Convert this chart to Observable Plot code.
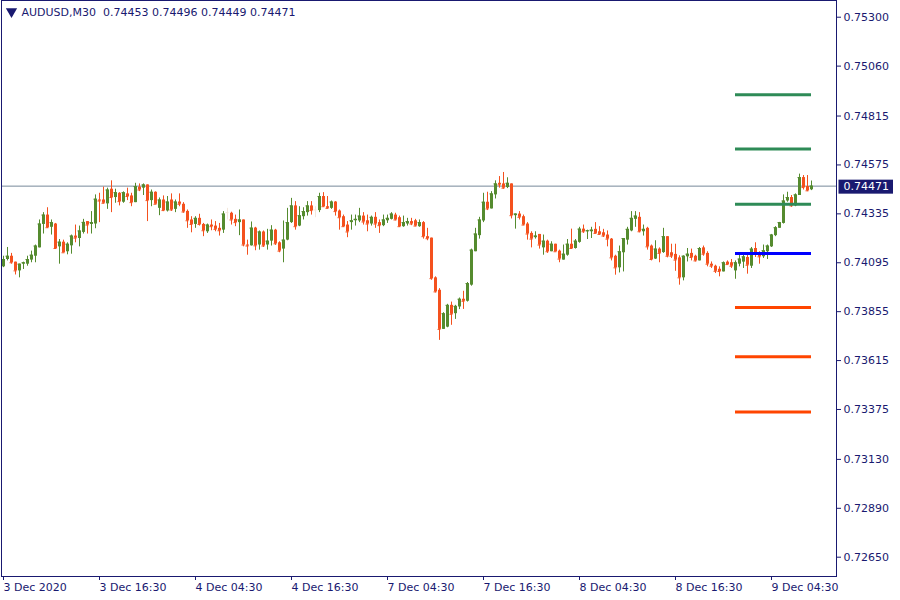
<!DOCTYPE html>
<html><head><meta charset="utf-8">
<script src="https://cdn.jsdelivr.net/npm/d3@7"></script>
<script src="https://cdn.jsdelivr.net/npm/@observablehq/plot@0.6"></script>
<style>
html,body{margin:0;padding:0;background:#fff;}
</style></head><body>
<script>
const symbol = "AUDUSD,M30";

const opens = [
0.74075,0.74111,0.74127,0.74098,0.74055,0.74088,0.74088,0.74108,0.74127,0.74168,
0.74283,0.74329,0.74269,0.74285,0.74173,0.74196,0.74149,0.74178,0.74226,0.74214,
0.74244,0.74297,0.74283,0.74285,0.74403,0.74403,0.74384,0.74456,0.74415,0.74436,
0.74392,0.74433,0.74423,0.74390,0.74466,0.74461,0.74477,0.74400,0.74441,0.74362,
0.74403,0.74349,0.74403,0.74357,0.74393,0.74382,0.74347,0.74305,0.74283,0.74313,
0.74283,0.74247,0.74280,0.74275,0.74264,0.74255,0.74341,0.74338,0.74308,0.74292,
0.74305,0.74182,0.74178,0.74265,0.74182,0.74246,0.74182,0.74201,0.74255,0.74193,
0.74162,0.74206,0.74292,0.74374,0.74275,0.74321,0.74341,0.74374,0.74354,0.74351,
0.74420,0.74370,0.74362,0.74393,0.74349,0.74321,0.74280,0.74292,0.74301,0.74300,
0.74324,0.74301,0.74285,0.74318,0.74292,0.74277,0.74301,0.74308,0.74329,0.74316,
0.74272,0.74285,0.74297,0.74301,0.74272,0.74292,0.74223,0.74216,0.74021,0.73960,
0.73768,0.73779,0.73886,0.73845,0.73878,0.73916,0.73906,0.73985,0.74149,0.74228,
0.74300,0.74392,0.74359,0.74428,0.74485,0.74482,0.74464,0.74482,0.74326,0.74334,
0.74321,0.74285,0.74239,0.74218,0.74234,0.74168,0.74201,0.74149,0.74186,0.74152,
0.74108,0.74132,0.74186,0.74165,0.74195,0.74260,0.74247,0.74247,0.74259,0.74247,
0.74242,0.74231,0.74211,0.74127,0.74070,0.74144,0.74206,0.74251,0.74308,0.74318,
0.74247,0.74264,0.74177,0.74113,0.74162,0.74145,0.74223,0.74144,0.74136,0.74119,
0.74021,0.74124,0.74141,0.74127,0.74104,0.74168,0.74141,0.74088,0.74078,0.74063,
0.74050,0.74098,0.74095,0.74055,0.74088,0.74098,0.74121,0.74078,0.74165,0.74137,
0.74124,0.74149,0.74173,0.74228,0.74264,0.74288,0.74398,0.74415,0.74374,0.74425,
0.74513,0.74469,0.74453];

const highs = [
0.74127,0.74170,0.74141,0.74098,0.74088,0.74098,0.74127,0.74152,0.74182,0.74305,
0.74341,0.74365,0.74305,0.74288,0.74209,0.74206,0.74193,0.74231,0.74280,0.74275,
0.74308,0.74297,0.74346,0.74428,0.74436,0.74466,0.74461,0.74497,0.74456,0.74439,
0.74443,0.74461,0.74436,0.74485,0.74482,0.74482,0.74477,0.74452,0.74443,0.74413,
0.74423,0.74420,0.74433,0.74403,0.74433,0.74390,0.74354,0.74321,0.74321,0.74333,
0.74288,0.74285,0.74305,0.74297,0.74288,0.74346,0.74362,0.74343,0.74329,0.74354,
0.74305,0.74206,0.74295,0.74269,0.74251,0.74251,0.74259,0.74277,0.74259,0.74198,
0.74300,0.74362,0.74411,0.74395,0.74370,0.74365,0.74395,0.74395,0.74370,0.74436,
0.74439,0.74420,0.74398,0.74395,0.74354,0.74329,0.74297,0.74329,0.74329,0.74362,
0.74341,0.74329,0.74324,0.74341,0.74305,0.74329,0.74329,0.74341,0.74338,0.74324,
0.74324,0.74313,0.74313,0.74308,0.74305,0.74297,0.74264,0.74216,0.74026,0.73968,
0.73850,0.73891,0.73902,0.73886,0.73922,0.73955,0.73998,0.74162,0.74264,0.74318,
0.74436,0.74441,0.74444,0.74497,0.74518,0.74538,0.74512,0.74482,0.74334,0.74346,
0.74329,0.74292,0.74247,0.74247,0.74234,0.74231,0.74206,0.74198,0.74186,0.74157,
0.74182,0.74209,0.74260,0.74209,0.74269,0.74280,0.74255,0.74269,0.74292,0.74272,
0.74259,0.74251,0.74214,0.74132,0.74177,0.74214,0.74269,0.74346,0.74346,0.74341,
0.74280,0.74269,0.74182,0.74203,0.74168,0.74264,0.74223,0.74186,0.74186,0.74129,
0.74129,0.74165,0.74162,0.74132,0.74170,0.74177,0.74149,0.74099,0.74083,0.74075,
0.74099,0.74104,0.74111,0.74104,0.74141,0.74141,0.74141,0.74170,0.74193,0.74149,
0.74182,0.74182,0.74234,0.74272,0.74293,0.74428,0.74441,0.74425,0.74433,0.74530,
0.74523,0.74523,0.74496];

const lows = [
0.74071,0.74104,0.74088,0.74035,0.74021,0.74062,0.74078,0.74095,0.74095,0.74168,
0.74236,0.74264,0.74231,0.74162,0.74088,0.74144,0.74134,0.74137,0.74193,0.74173,
0.74236,0.74236,0.74236,0.74262,0.74292,0.74384,0.74357,0.74341,0.74387,0.74374,
0.74387,0.74400,0.74370,0.74390,0.74444,0.74425,0.74297,0.74370,0.74382,0.74326,
0.74346,0.74344,0.74347,0.74341,0.74370,0.74338,0.74264,0.74242,0.74264,0.74275,
0.74223,0.74239,0.74252,0.74247,0.74226,0.74239,0.74305,0.74280,0.74272,0.74228,
0.74173,0.74132,0.74177,0.74154,0.74157,0.74170,0.74157,0.74177,0.74180,0.74144,
0.74095,0.74203,0.74288,0.74255,0.74272,0.74305,0.74324,0.74329,0.74316,0.74341,
0.74367,0.74359,0.74357,0.74324,0.74255,0.74269,0.74218,0.74255,0.74275,0.74292,
0.74280,0.74247,0.74275,0.74264,0.74239,0.74272,0.74288,0.74305,0.74301,0.74269,
0.74269,0.74275,0.74277,0.74272,0.74269,0.74211,0.74203,0.74009,0.73947,0.73714,
0.73768,0.73776,0.73788,0.73817,0.73865,0.73866,0.73902,0.73980,0.74149,0.74211,
0.74292,0.74351,0.74359,0.74408,0.74461,0.74456,0.74459,0.74310,0.74260,0.74305,
0.74277,0.74206,0.74168,0.74211,0.74162,0.74132,0.74141,0.74149,0.74149,0.74095,
0.74108,0.74127,0.74165,0.74162,0.74191,0.74239,0.74209,0.74214,0.74239,0.74231,
0.74219,0.74173,0.74104,0.74034,0.74045,0.74050,0.74182,0.74247,0.74269,0.74242,
0.74226,0.74157,0.74104,0.74111,0.74095,0.74141,0.74119,0.74116,0.74053,0.73985,
0.74006,0.74099,0.74104,0.74099,0.74104,0.74127,0.74075,0.74067,0.74042,0.74026,
0.74050,0.74083,0.74067,0.74014,0.74075,0.74067,0.74039,0.74067,0.74121,0.74088,
0.74116,0.74111,0.74170,0.74223,0.74264,0.74285,0.74392,0.74367,0.74370,0.74425,
0.74452,0.74444,0.74449];

const closes = [
0.74111,0.74127,0.74095,0.74055,0.74088,0.74095,0.74111,0.74132,0.74177,0.74285,
0.74329,0.74267,0.74292,0.74165,0.74196,0.74144,0.74186,0.74226,0.74216,0.74251,
0.74293,0.74280,0.74292,0.74407,0.74398,0.74387,0.74452,0.74415,0.74439,0.74395,
0.74439,0.74420,0.74390,0.74469,0.74452,0.74477,0.74400,0.74441,0.74382,0.74403,
0.74351,0.74393,0.74354,0.74393,0.74382,0.74344,0.74301,0.74283,0.74313,0.74283,
0.74252,0.74280,0.74272,0.74259,0.74252,0.74334,0.74341,0.74305,0.74292,0.74305,
0.74182,0.74177,0.74265,0.74178,0.74246,0.74177,0.74201,0.74255,0.74188,0.74152,
0.74206,0.74292,0.74374,0.74272,0.74326,0.74346,0.74374,0.74351,0.74354,0.74420,
0.74370,0.74362,0.74393,0.74346,0.74316,0.74272,0.74246,0.74301,0.74308,0.74324,
0.74295,0.74285,0.74318,0.74285,0.74277,0.74305,0.74313,0.74334,0.74305,0.74272,
0.74292,0.74297,0.74285,0.74275,0.74292,0.74223,0.74213,0.74017,0.73952,0.73768,
0.73845,0.73886,0.73842,0.73881,0.73916,0.73906,0.73993,0.74157,0.74236,0.74305,
0.74392,0.74359,0.74433,0.74482,0.74477,0.74461,0.74485,0.74326,0.74334,0.74318,
0.74280,0.74236,0.74211,0.74226,0.74182,0.74201,0.74149,0.74186,0.74149,0.74113,
0.74137,0.74186,0.74165,0.74201,0.74260,0.74247,0.74252,0.74255,0.74239,0.74234,
0.74226,0.74211,0.74119,0.74070,0.74149,0.74214,0.74259,0.74313,0.74324,0.74247,
0.74259,0.74173,0.74111,0.74162,0.74141,0.74223,0.74127,0.74127,0.74108,0.74021,
0.74127,0.74137,0.74121,0.74104,0.74165,0.74137,0.74088,0.74078,0.74053,0.74052,
0.74095,0.74086,0.74078,0.74095,0.74113,0.74124,0.74083,0.74162,0.74137,0.74124,
0.74154,0.74177,0.74231,0.74267,0.74292,0.74398,0.74415,0.74374,0.74428,0.74513,
0.74464,0.74448,0.74471];

// x axis: bar index of each labelled bar, and its label
const xTickBars = [0, 24, 48, 72, 96, 120, 144, 168, 192];
const xTickLabels = ["3 Dec 2020", "3 Dec 16:30", "4 Dec 04:30", "4 Dec 16:30",
  "7 Dec 04:30", "7 Dec 16:30", "8 Dec 04:30", "8 Dec 16:30", "9 Dec 04:30"];
// y axis price labels
const yTicks = [0.75300, 0.75060, 0.74815, 0.74575, 0.74335, 0.74095,
  0.73855, 0.73615, 0.73375, 0.73130, 0.72890, 0.72650];

// pivot levels (R3..S3), drawn over bars levelFromBar..levelToBar
const levelPrices = [0.74919, 0.74653, 0.74382, 0.74141, 0.73875, 0.73634, 0.73363];
const levelKinds = ["R", "R", "R", "P", "S", "S", "S"];
const levelFromBar = 183, levelToBar = 202;

const bid = 0.74471;

// ---- build ----
const NAVY = "#191970";
const UP = "#558B2F", DOWN = "#F4511E", DOJI = "#F3E6DA";
const LEVEL_COLORS = {R: "#2E8B57", P: "#0000FF", S: "#FF4500"};

const candles = closes.map((c, i) => ({i, o: opens[i], h: highs[i], l: lows[i], c}));
const col = d => d.c > d.o ? UP : d.c < d.o ? DOWN : DOJI;
const levels = levelPrices.map((p, k) => ({p, kind: levelKinds[k]}));
const last = candles[candles.length - 1];
const fmt = d3.format(".5f");
const header = symbol + "\u00a0\u00a0" + [last.o, last.h, last.l, last.c].map(fmt).join(" ");

const chart = Plot.plot({
  width: 900, height: 600,
  marginLeft: 1, marginRight: 64, marginTop: 0, marginBottom: 24,
  style: {fontFamily: "DejaVu Sans", fontSize: "11px", color: NAVY, background: "white", overflow: "visible"},
  x: {domain: [-0.5, 208.25], label: null},
  y: {domain: [0.725553, 0.753820], label: null},
  marks: [
    Plot.ruleY([bid], {stroke: "#778899", strokeWidth: 1}),
    Plot.ruleX(candles, {x: "i", y1: "l", y2: "h", stroke: col, strokeWidth: 1}),
    Plot.ruleX(candles, {x: "i", y1: "o", y2: "c", stroke: col, strokeWidth: 3}),
    Plot.ruleY(candles, {y: "c", x1: d => d.i - 0.375, x2: d => d.i + 0.375, stroke: col, strokeWidth: 1}),
    Plot.ruleY(levels, {y: "p", x1: () => levelFromBar, x2: () => levelToBar,
      stroke: d => LEVEL_COLORS[d.kind], strokeWidth: 3}),
    Plot.frame({stroke: NAVY, strokeWidth: 1}),
    Plot.axisY(yTicks, {anchor: "right", tickSize: 4, tickPadding: 3, tickFormat: fmt,
      stroke: NAVY, fill: NAVY, label: null}),
    Plot.axisX(xTickBars, {anchor: "bottom", tickSize: 4, tickPadding: 3, textAnchor: "start",
      tickFormat: d => xTickLabels[xTickBars.indexOf(d)], stroke: NAVY, fill: NAVY, label: null}),
    Plot.dot([0], {frameAnchor: "top-left", dx: 10, dy: 11, symbol: "triangle", r: 4.2,
      rotate: 180, fill: NAVY, stroke: null}),
    Plot.text([header], {frameAnchor: "top-left", dx: 20, dy: 8, fill: NAVY, text: d => d}),
    Plot.text([bid], {y: d => d, frameAnchor: "right", dx: 7, textAnchor: "start",
      fill: "white", text: d => fmt(d), className: "bidlabel"})
  ]
});
document.body.appendChild(chart);

// navy background box behind the current-price label
const svg = d3.select(chart.tagName.toLowerCase() === "svg" ? chart : chart.querySelector("svg"));
svg.selectAll(".bidlabel text").each(function () {
  const bb = this.getBBox();
  const g = d3.select(this.parentNode);
  const r = g.insert("rect", "text")
    .attr("x", bb.x - 5).attr("y", bb.y).attr("width", bb.width + 9).attr("height", bb.height + 1)
    .attr("fill", NAVY);
  const t = this.getAttribute("transform");
  if (t) r.attr("transform", t);
  const gt = this.parentNode.getAttribute("transform");
});
</script>
</body></html>
